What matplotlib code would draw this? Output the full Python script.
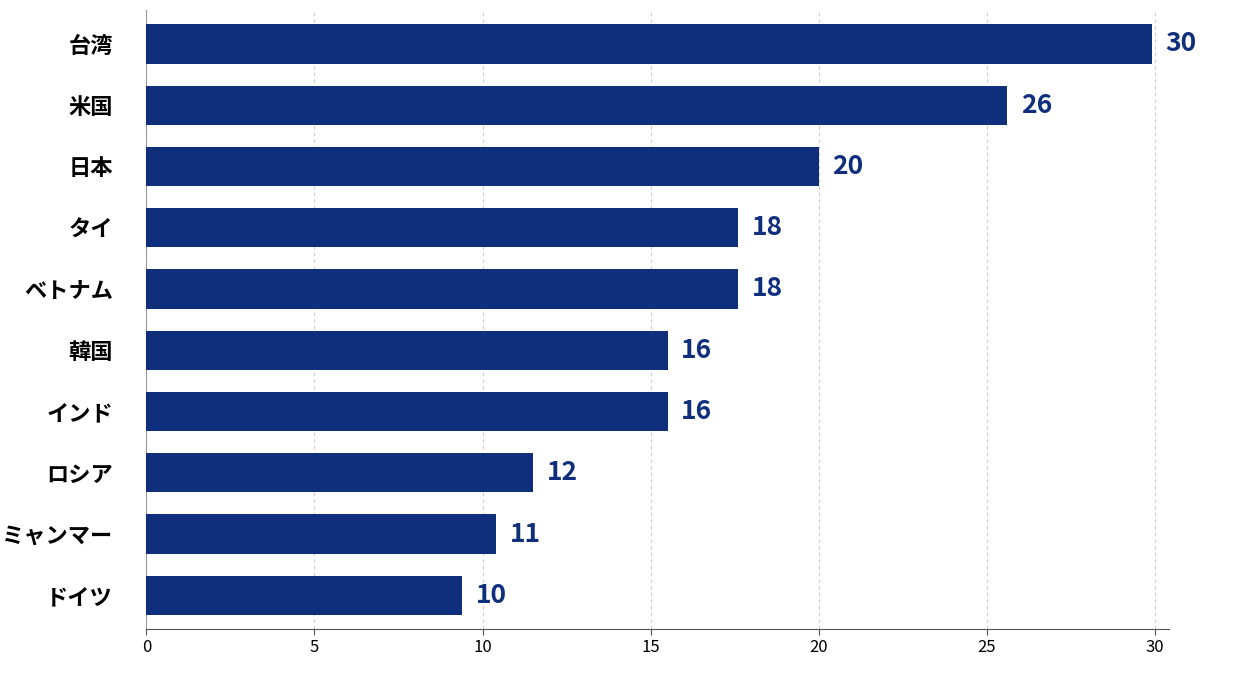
import matplotlib
matplotlib.use("Agg")
import matplotlib.pyplot as plt

plt.rcParams['font.family'] = ['Noto Sans CJK JP', 'DejaVu Sans']

countries = ["台湾", "米国", "日本", "タイ", "ベトナム", "韓国", "インド", "ロシア", "ミャンマー", "ドイツ"]
values = [29.9, 25.6, 20.0, 17.6, 17.6, 15.5, 15.5, 11.5, 10.4, 9.4]
labels = ["30", "26", "20", "18", "18", "16", "16", "12", "11", "10"]

fig = plt.figure(figsize=(12.4, 6.8), dpi=100)
ax = fig.add_axes([0.118, 0.075, 0.825, 0.91])
color = "#0f2f7d"
y = list(range(len(countries)))
ax.barh(y, values, height=0.64, color=color, zorder=3)
for yi, v, l in zip(y, values, labels):
    ax.text(v + 0.4, yi, l, va="center", ha="left", fontsize=19, fontweight="bold", color=color)
ax.set_yticks(y)
ax.set_yticklabels(countries, fontsize=16, fontweight="bold")
ax.invert_yaxis()
ax.set_ylim(9.55, -0.55)
ax.set_xlim(0, 30.42)
ax.set_xticks([0, 5, 10, 15, 20, 25, 30])
ax.tick_params(axis='x', labelsize=12, length=4, color="#555")
ax.tick_params(axis='y', length=0, pad=24)
ax.grid(axis='x', linestyle=(0, (3, 3)), color="#cccccc", linewidth=0.8, zorder=0)
for s in ["top", "right"]:
    ax.spines[s].set_visible(False)
ax.spines["left"].set_color("#999999")
ax.spines["bottom"].set_color("#555555")
fig.savefig("out.png", dpi=100, facecolor="white")
